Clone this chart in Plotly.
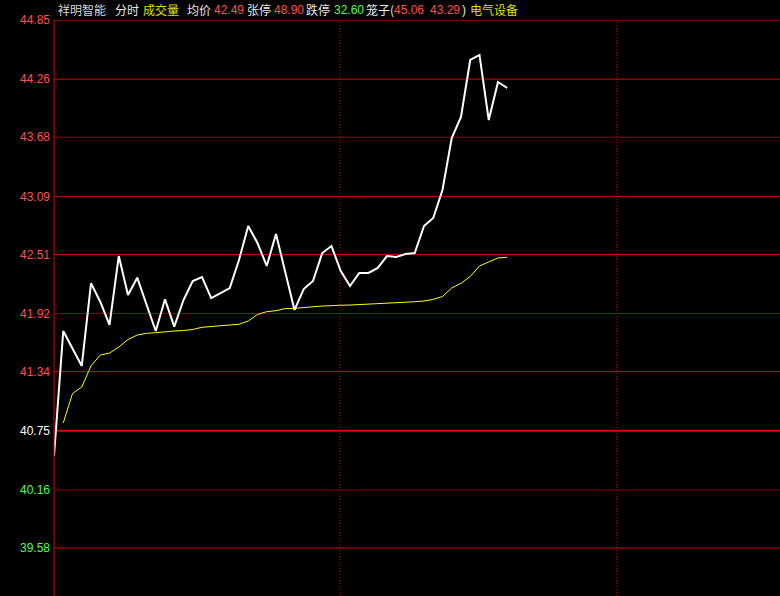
import plotly.graph_objects as go

# intraday price (white) and average price (yellow), one point per sample
price = [40.498, 41.746, 41.571, 41.397, 42.222, 42.038, 41.806, 42.494, 42.105, 42.278,
         42.010, 41.746, 42.062, 41.789, 42.055, 42.245, 42.285, 42.075, 42.125, 42.175,
         42.455, 42.794, 42.624, 42.395, 42.714, 42.335, 41.956, 42.165, 42.245, 42.524,
         42.594, 42.345, 42.195, 42.325, 42.325, 42.375, 42.494, 42.484, 42.514, 42.524,
         42.794, 42.874, 43.153, 43.672, 43.882, 44.451, 44.501, 43.852, 44.231, 44.171]
avg_price = [None, 40.828, 41.122, 41.187, 41.397, 41.506, 41.526, 41.586, 41.661, 41.706,
             41.723, 41.729, 41.741, 41.746, 41.751, 41.761, 41.783, 41.793, 41.799, 41.806,
             41.813, 41.846, 41.911, 41.939, 41.949, 41.970, 41.972, 41.983, 41.988, 41.995,
             42.002, 42.003, 42.005, 42.009, 42.015, 42.019, 42.022, 42.028, 42.035, 42.038,
             42.045, 42.062, 42.090, 42.175, 42.222, 42.290, 42.395, 42.435, 42.475, 42.482]
minutes = list(range(len(price)))

levels = [44.85, 44.26, 43.68, 43.09, 42.51, 41.92, 41.34, 40.75, 40.16, 39.58]
pre_close = 40.75
dim_levels = [43.68, 41.92, 40.16]
x_dividers = [30.92, 60.86]
x_span = 78.49
y_bottom = 39.101

header_texts = ["祥明智能", "分时", "成交量", "均价", "42.49", "张停", "48.90", "跌停",
                "32.60", "笼子(", "45.06", "43.29", ")", "电气设备"]
header_colors = ["#d8d8d8", "#e8e8e8", "#e0e000", "#e8e8e8", "#ff5050", "#e8e8e8", "#ff5050",
                 "#e8e8e8", "#50ff50", "#e8e8e8", "#ff5050", "#ff5050", "#e8e8e8", "#e0e000"]
header_px = [56, 113, 141, 185, 212, 245, 272, 304, 332, 364, 392, 428, 460, 468]


def level_color(v):
    if v > pre_close:
        return "#ff5050"
    if v < pre_close:
        return "#50ff50"
    return "#ffffff"


fig = go.Figure()
fig.add_trace(go.Scatter(x=minutes, y=avg_price, mode="lines",
                         line=dict(color="#ffff00", width=1), hoverinfo="skip"))
fig.add_trace(go.Scatter(x=minutes, y=price, mode="lines",
                         line=dict(color="#ffffff", width=2), hoverinfo="skip"))

# horizontal grid
for v in levels:
    if v == pre_close:
        col, w = "#e00000", 2
    elif v in dim_levels:
        col, w = "#900000", 1
    else:
        col, w = "#e00000", 1
    fig.add_shape(type="line", xref="paper", x0=0, x1=1, y0=v, y1=v,
                  line=dict(color=col, width=w), layer="below")

# vertical dotted dividers
for xv in x_dividers:
    fig.add_shape(type="line", x0=xv, x1=xv, yref="paper", y0=0, y1=1,
                  line=dict(color="#d00000", width=1, dash="1px,2px"), layer="below")

# left border
fig.add_shape(type="line", xref="paper", yref="paper", x0=0, x1=0, y0=0, y1=1,
              line=dict(color="#e00000", width=1))

for txt, col, px in zip(header_texts, header_colors, header_px):
    cjk = any(ord(c) > 0x2e80 for c in txt)
    fig.add_annotation(text=txt, xref="paper", yref="paper",
                       x=(px - 54) / 726, y=1 + 10 / 576, xanchor="left", yanchor="middle",
                       showarrow=False,
                       font=dict(color=col, size=12,
                                 family="Noto Sans CJK SC" if cjk else "Liberation Sans"))

fig.update_layout(
    width=780, height=596,
    margin=dict(l=54, r=0, t=20, b=0),
    paper_bgcolor="#000000", plot_bgcolor="#000000",
    showlegend=False,
    xaxis=dict(range=[0, x_span], visible=False, showgrid=False, zeroline=False),
    yaxis=dict(range=[y_bottom, 44.85], showgrid=False, zeroline=False, ticks="",
               tickvals=levels,
               ticktext=[f'<span style="color:{level_color(v)}">{v:.2f}</span>' for v in levels],
               tickfont=dict(family="Liberation Sans", size=12), ticklabelstandoff=3),
)

fig.write_html("out.html", config={"displayModeBar": False},
               post_script="document.body.style.margin='0';")
